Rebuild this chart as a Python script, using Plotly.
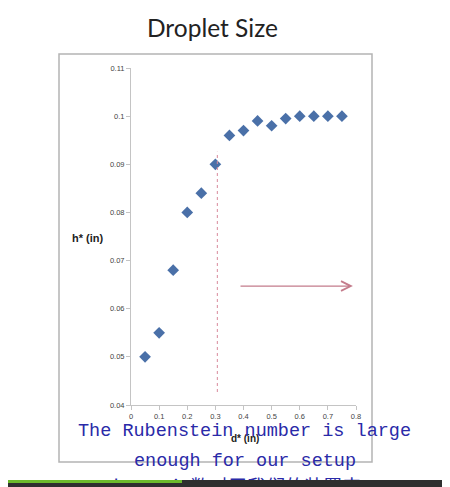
import plotly.graph_objects as go

# ---- data ----
d_star = [0.05, 0.10, 0.15, 0.20, 0.25, 0.30, 0.35, 0.40, 0.45, 0.50, 0.55, 0.60, 0.65, 0.70, 0.75]
h_star = [0.050, 0.055, 0.068, 0.080, 0.084, 0.090, 0.096, 0.097, 0.099, 0.098, 0.0995, 0.100, 0.100, 0.100, 0.100]

x_tickvals = [0, 0.1, 0.2, 0.3, 0.4, 0.5, 0.6, 0.7, 0.8]
x_ticktext = ["0", "0.1", "0.2", "0.3", "0.4", "0.5", "0.6", "0.7", "0.8"]
y_tickvals = [0.04, 0.05, 0.06, 0.07, 0.08, 0.09, 0.10, 0.11]
y_ticktext = ["0.04", "0.05", "0.06", "0.07", "0.08", "0.09", "0.1", "0.11"]

cutoff_d = 0.307
cutoff_h = [0.0427, 0.0926]
arrow_d = [0.384, 0.789]
arrow_h = 0.0647

title_text = "Droplet Size"
subtitle_en_1 = "The Rubenstein number is large"
subtitle_en_2 = "enough for our setup"
subtitle_zh = "Rubenstein数对于我们的装置来"

# ---- layout geometry (pixels in the target window; page body adds an 8px offset) ----
OFF = 8
W, H = 450 - OFF, 487 - OFF
L, R, T, B = 131 - OFF, 356 - OFF, 68 - OFF, 405 - OFF
pw, ph = R - L, B - T


def px(x):
    return (x - OFF - L) / pw


def py(y):
    return (B - (y - OFF)) / ph


fig = go.Figure()
fig.add_trace(go.Scatter(
    x=d_star, y=h_star, mode="markers",
    marker=dict(symbol="diamond", size=9, color="#4a70a8"),
    showlegend=False, hoverinfo="skip",
))

tick_font = dict(family="Liberation Sans Narrow, Liberation Sans, sans-serif", size=7.5, color="#444")

fig.update_layout(
    width=W, height=H,
    margin=dict(l=L, r=W - R, t=T, b=H - B),
    paper_bgcolor="white", plot_bgcolor="white",
    xaxis=dict(range=[0, 0.8], tickvals=x_tickvals, ticktext=x_ticktext,
               showgrid=False, zeroline=False, showline=True, linecolor="#c4c4c4",
               linewidth=1, ticks="outside", ticklen=4, tickcolor="#c4c4c4",
               tickfont=tick_font, fixedrange=True),
    yaxis=dict(range=[0.04, 0.11], tickvals=y_tickvals, ticktext=y_ticktext,
               showgrid=False, zeroline=False, showline=True, linecolor="#c4c4c4",
               linewidth=1, ticks="outside", ticklen=4, tickcolor="#c4c4c4",
               tickfont=tick_font, fixedrange=True),
)

# outer chart frame
fig.add_shape(type="rect", xref="paper", yref="paper",
              x0=px(59), x1=px(372), y0=py(462), y1=py(54),
              line=dict(color="#b4b4b4", width=1.5), fillcolor="rgba(0,0,0,0)", layer="below")

# vertical dotted cutoff line
fig.add_shape(type="line", xref="x", yref="y",
              x0=cutoff_d, x1=cutoff_d, y0=cutoff_h[0], y1=cutoff_h[1],
              line=dict(color="#d88a9c", width=1, dash="dot"))

# arrow
fig.add_annotation(x=arrow_d[1], y=arrow_h, ax=arrow_d[0], ay=arrow_h,
                   xref="x", yref="y", axref="x", ayref="y",
                   showarrow=True, arrowhead=5, arrowsize=1.6, arrowwidth=1.2,
                   arrowcolor="#c47c8c", text="")


def label(text, x, y, font, xanchor="center", yanchor="middle"):
    fig.add_annotation(text=text, xref="paper", yref="paper", x=px(x), y=py(y),
                       xanchor=xanchor, yanchor=yanchor, showarrow=False, font=font)


# title
label(title_text, 212, 28, dict(family="Lato, Open Sans, sans-serif", size=24.5, color="#222"))

# axis titles
label("<b>h* (in)</b>", 87, 238,
      dict(family="Liberation Sans Narrow, Liberation Sans, sans-serif", size=11, color="#222"))
label("<b>d* (in)</b>", 245, 438,
      dict(family="Liberation Sans Narrow, Liberation Sans, sans-serif", size=10, color="#222"))

# subtitles
sub_font = dict(family="Liberation Mono, DejaVu Sans Mono, monospace", size=18.5, color="#2a2aa8")
label(subtitle_en_1, 244, 431, sub_font)
label(subtitle_en_2, 245, 461, sub_font)
label(subtitle_zh, 88, 485,
      dict(family="Noto Sans CJK SC, sans-serif", size=19, color="#2a2aa8"), xanchor="left")

# video progress bar (drawn as boxes on top)
fig.add_annotation(text=" ", xref="paper", yref="paper",
                   x=px(OFF), y=py(480), xanchor="left", yanchor="top",
                   width=W, height=7, borderpad=0, borderwidth=0,
                   bgcolor="#2f2f2f", showarrow=False, font=dict(size=4))
fig.add_annotation(text=" ", xref="paper", yref="paper",
                   x=px(OFF), y=py(480), xanchor="left", yanchor="top",
                   width=182 - OFF, height=3, borderpad=0, borderwidth=0,
                   bgcolor="#6cbb2c", showarrow=False, font=dict(size=2))

fig.write_html("out.html")
